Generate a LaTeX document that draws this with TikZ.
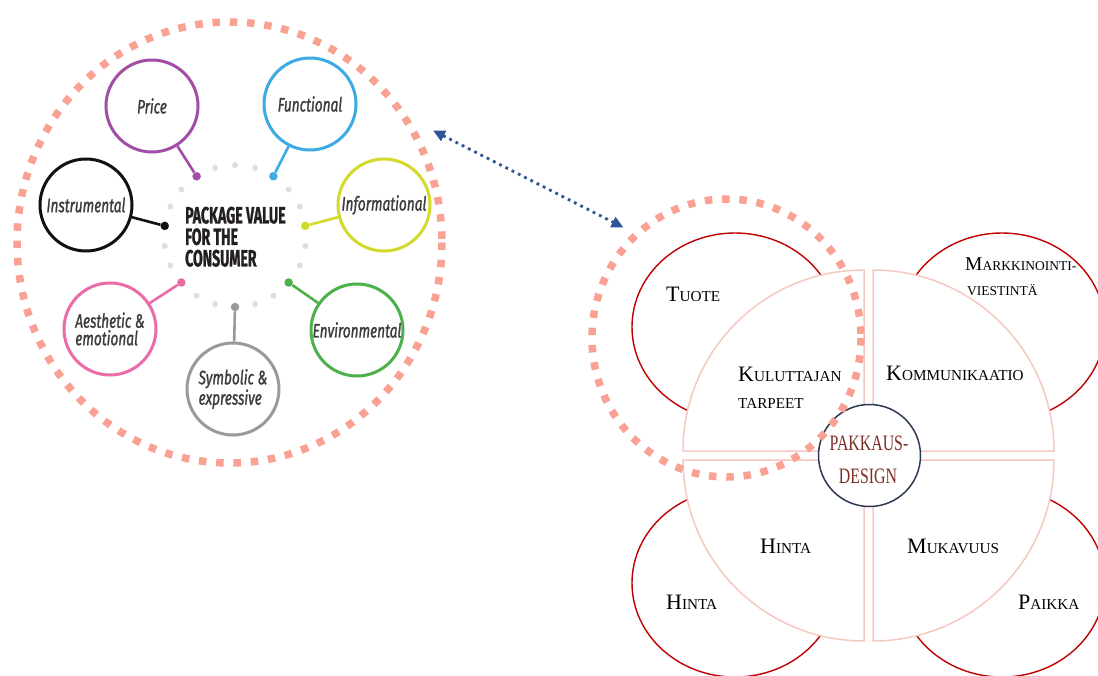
\documentclass[tikz,border=0pt]{standalone}
\usepackage{fontspec}
\setmainfont{Liberation Serif}
\newfontfamily\labelfont{Fira Sans}[FakeStretch=0.7, FakeBold=1.2]
\newfontfamily\titlefont{Fira Sans}[FakeStretch=0.6, FakeBold=1]
\newfontfamily\pakfont{Liberation Serif}[FakeStretch=0.72]
\usetikzlibrary{arrows.meta,calc,shapes.geometric}

\definecolor{salmon}{HTML}{F9A294}
\definecolor{pricec}{HTML}{A24EA6}
\definecolor{funcc}{HTML}{3DAAE2}
\definecolor{infoc}{HTML}{D3DA2B}
\definecolor{instc}{HTML}{111111}
\definecolor{aesc}{HTML}{EA6BA6}
\definecolor{symc}{HTML}{9A9A9A}
\definecolor{envc}{HTML}{4DB14B}
\definecolor{labelgrey}{HTML}{3C3C3C}
\definecolor{titleblack}{HTML}{231F20}
\definecolor{dotgrey}{HTML}{DEDEDE}
\definecolor{arrowblue}{HTML}{2F5597}
\definecolor{ellred}{HTML}{C00000}
\definecolor{quarterpink}{HTML}{F5C8C0}
\definecolor{hubnavy}{HTML}{2C3A52}
\definecolor{pakred}{HTML}{7C2E27}

% faked small caps: large initial, smaller capitals after it
\newcommand\scA[2]{{\fontsize{22}{24}\selectfont #1}{\fontsize{15.2}{17}\selectfont #2}}
\newcommand\scAs[1]{{\fontsize{15.2}{17}\selectfont #1}}
\newcommand\scB[2]{{\fontsize{19.5}{21}\selectfont #1}{\fontsize{13.5}{15}\selectfont #2}}
\newcommand\scBs[1]{{\fontsize{13.5}{15}\selectfont #1}}

\tikzset{
  valuering/.style={circle, draw=#1, line width=3pt, minimum size=92pt, inner sep=0pt,
    align=left, text=labelgrey, font=\labelfont\itshape\fontsize{19.5}{17.5}\selectfont},
  enddot/.style={circle, fill=#1, minimum size=8.5pt, inner sep=0pt},
  griddot/.style={circle, fill=dotgrey, minimum size=6pt, inner sep=0pt},
  stem/.style={draw=#1, line width=2.6pt},
  bigdash/.style={draw=salmon, line width=7.5pt, dash pattern=on 7.5pt off 9.8pt},
  linkarrow/.style={draw=arrowblue, line width=2.8pt, dash pattern=on 2.8pt off 4.2pt,
    {Triangle[length=12pt,width=11pt,fill=arrowblue]}-{Triangle[length=12pt,width=11pt,fill=arrowblue]}},
  petal/.style={ellipse, draw=ellred, line width=1.4pt, minimum width=206pt, minimum height=188pt, inner sep=0pt},
  quarter/.style={draw=quarterpink, line width=1.5pt, fill=white},
  sclabel/.style={anchor=base west, inner sep=0pt, text=black},
  hubring/.style={circle, draw=hubnavy, line width=1.5pt, fill=white, minimum size=102pt, inner sep=0pt},
  paktext/.style={anchor=base, inner sep=0pt, text=pakred, font=\pakfont\fontsize{22}{24}\selectfont},
}

\begin{document}
\begin{tikzpicture}[x=1pt, y=-1pt]
\fill[white] (0,0) rectangle (1098,675);
\useasboundingbox (0,0) rectangle (1098,675);

% ---------- package value wheel ----------
\draw[bigdash] (229.5,242.5) ellipse [x radius=212.5, y radius=220.5];

\coordinate (hub) at (235,236);
\foreach \k in {0,1,3,4,6,7,9,10,12,13,15,16,18,19,21}
  \node[griddot] (g\k) at ($(hub)+({\k*360/22-90}:71)$) {};

\node[enddot=funcc] (fdot) at ($(hub)+({2*360/22-90}:71)$) {};
\node[enddot=infoc] (idot) at ($(hub)+({5*360/22-90}:71)$) {};
\node[enddot=envc]  (edot) at ($(hub)+({8*360/22-90}:71)$) {};
\node[enddot=symc]  (sdot) at ($(hub)+({11*360/22-90}:71)$) {};
\node[enddot=aesc]  (adot) at ($(hub)+({14*360/22-90}:71)$) {};
\node[enddot=instc] (ndot) at ($(hub)+({17*360/22-90}:71)$) {};
\node[enddot=pricec] (pdot) at ($(hub)+({20*360/22-90}:71)$) {};

\node[valuering=pricec] (price) at (152,106) {Price};
\node[valuering=funcc] (functional) at (310,104) {Functional};
\node[valuering=infoc] (informational) at (384,205) {Informational};
\node[valuering=instc] (instrumental) at (86,205) {Instrumental};
\node[valuering=aesc] (aesthetic) at (110,329) {Aesthetic \&\\emotional};
\node[valuering=symc] (symbolic) at (233,389) {Symbolic \&\\expressive};
\node[valuering=envc] (environmental) at (357,330) {Environmental};

\draw[stem=pricec] (price) -- (pdot);
\draw[stem=funcc] (functional) -- (fdot);
\draw[stem=infoc] (informational) -- (idot);
\draw[stem=instc] (instrumental) -- (ndot);
\draw[stem=aesc] (aesthetic) -- (adot);
\draw[stem=symc] (symbolic) -- (sdot);
\draw[stem=envc] (environmental) -- (edot);

\node[anchor=north west, inner sep=0pt, align=left, text=titleblack,
      font=\titlefont\bfseries\fontsize{23.5}{21.5}\selectfont] (title) at (185,206.5)
      {PACKAGE VALUE\\FOR THE\\CONSUMER};

% ---------- link between the two figures ----------
\coordinate (linkA) at (433,130.5);
\coordinate (linkB) at (623.5,227.5);
\draw[linkarrow] (linkA) -- (linkB);

% ---------- packaging design model ----------
\node[petal] (tuoteoval) at (735,327) {};
\node[petal] (markoval) at (1002,327) {};
\node[petal] (hintaoval) at (735,583) {};
\node[petal] (paikkaoval) at (1002,583) {};

\path[quarter] (864,451) -- (683,451) arc[start angle=180, end angle=270, radius=181] -- cycle;
\path[quarter] (873,451) -- (1054,451) arc[start angle=0, end angle=-90, radius=181] -- cycle;
\path[quarter] (864,460) -- (683,460) arc[start angle=180, end angle=90, radius=181] -- cycle;
\path[quarter] (873,460) -- (1054,460) arc[start angle=0, end angle=90, radius=181] -- cycle;

\node[sclabel] (tuote) at (666,301.7) {\scA{T}{UOTE}};
\node[sclabel] (kulut1) at (738,381.7) {\scA{K}{ULUTTAJAN}};
\node[sclabel] (kulut2) at (738,408) {\scAs{TARPEET}};
\node[sclabel] (komm) at (886,380.7) {\scA{K}{OMMUNIKAATIO}};
\node[sclabel] (mark1) at (965,270.5) {\scB{M}{ARKKINOINTI-}};
\node[sclabel] (mark2) at (967,295) {\scBs{VIESTINTÄ}};
\node[sclabel] (hinta1) at (760,553.3) {\scA{H}{INTA}};
\node[sclabel] (hinta2) at (666,609.3) {\scA{H}{INTA}};
\node[sclabel] (mukav) at (907,553.3) {\scA{M}{UKAVUUS}};
\node[sclabel] (paikka) at (1018,609.3) {\scA{P}{AIKKA}};

\node[hubring] (design) at (869.5,455.5) {};
\node[paktext] (pak1) at (869,450) {PAKKAUS-};
\node[paktext] (pak2) at (868,483.3) {DESIGN};

\draw[bigdash] (726.5,338) ellipse [x radius=134.5, y radius=139];
\end{tikzpicture}
\end{document}
